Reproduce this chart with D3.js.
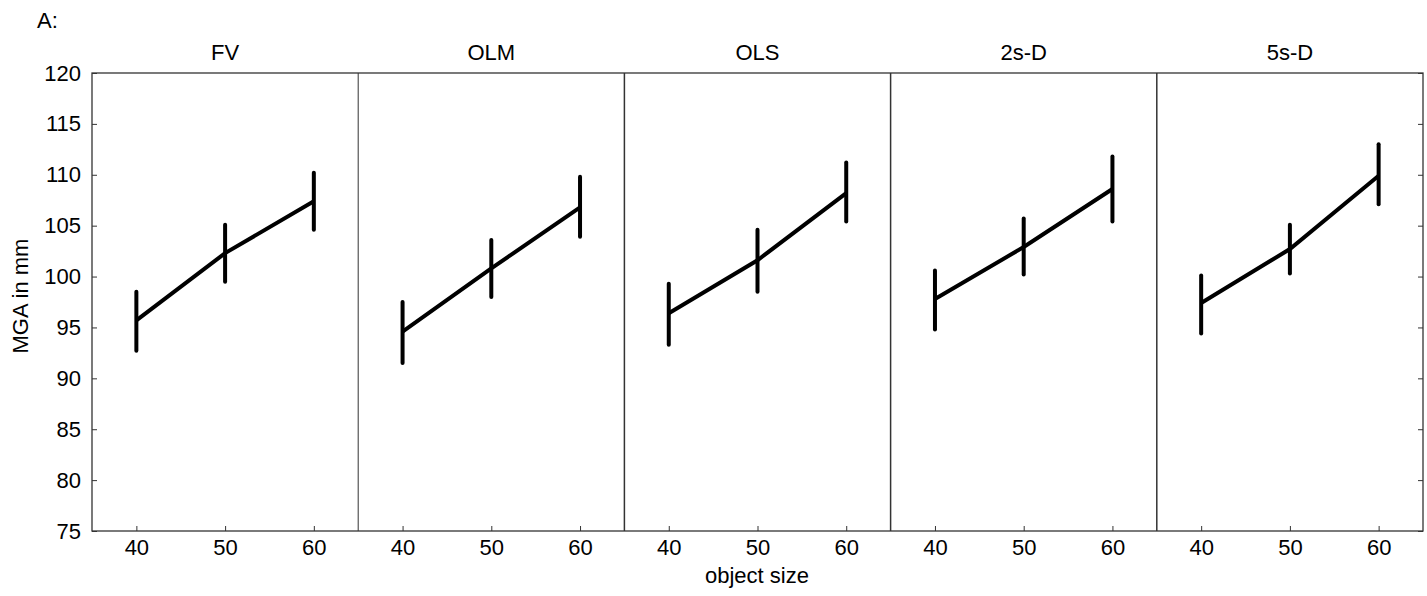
<!DOCTYPE html>
<html><head><meta charset="utf-8">
<script src="https://cdn.jsdelivr.net/npm/d3@7/dist/d3.min.js"></script>
<style>body{margin:0;background:#fff}svg{display:block}text{font-family:"Liberation Sans",Arial,sans-serif;fill:#000}</style>
</head><body><svg id="c" width="1427" height="596"></svg>
<script>
const panels = ["FV","OLM","OLS","2s-D","5s-D"];
const sizes = [40,50,60];
const means = [
  [95.7,102.3,107.4],
  [94.6,100.8,106.8],
  [96.4,101.6,108.2],
  [97.8,102.9,108.6],
  [97.4,102.7,109.9]
];
const lows = [
  [92.7,99.5,104.6],
  [91.5,98.0,103.9],
  [93.3,98.5,105.4],
  [94.8,100.2,105.4],
  [94.4,100.3,107.1]
];
const highs = [
  [98.5,105.1,110.2],
  [97.5,103.6,109.8],
  [99.3,104.6,111.2],
  [100.6,105.7,111.8],
  [100.1,105.1,113.0]
];
const yTicks = [75,80,85,90,95,100,105,110,115,120];

const FS = 22;
const svg = d3.select("#c");
const L=92, R=1423, T=73, B=531;
const y = d3.scaleLinear().domain([75,120]).range([B,T]);
const px = d3.scaleBand().domain(panels).range([L,R]).paddingInner(0).paddingOuter(0);
const axisColor="#333";

svg.append("text").attr("x",37).attr("y",28).attr("font-size",FS).text("A:");

svg.append("rect").attr("x",L).attr("y",T).attr("width",R-L).attr("height",B-T)
  .attr("fill","none").attr("stroke",axisColor).attr("stroke-width",1.3);

const ya = svg.append("g").attr("transform",`translate(${L},0)`)
  .call(d3.axisLeft(y).tickValues(yTicks).tickSizeInner(-5).tickSizeOuter(0).tickPadding(11));
ya.select(".domain").remove();
ya.selectAll("line").attr("stroke",axisColor);
ya.selectAll("text").attr("font-size",FS);
const yr = svg.append("g").attr("transform",`translate(${R},0)`)
  .call(d3.axisRight(y).tickValues(yTicks).tickSizeInner(-5).tickSizeOuter(0).tickFormat(""));
yr.select(".domain").remove();
yr.selectAll("line").attr("stroke",axisColor);

svg.append("text").attr("transform",`translate(28,${(T+B)/2 - 6}) rotate(-90)`)
  .attr("text-anchor","middle").attr("font-size",FS).text("MGA in mm");

panels.forEach((p,i)=>{
  const x0 = px(p);
  const x = d3.scaleLinear().domain([35,65]).range([x0,x0+px.bandwidth()]);
  if(i>0) svg.append("line").attr("x1",x0).attr("x2",x0).attr("y1",T).attr("y2",B)
    .attr("stroke",axisColor).attr("stroke-width",i===1?1:1.5);
  svg.append("text").attr("x",x0+px.bandwidth()/2).attr("y",60).attr("text-anchor","middle")
    .attr("font-size",FS).text(p);
  const xa = svg.append("g").attr("transform",`translate(0,${B})`)
    .call(d3.axisBottom(x).tickValues(sizes).tickSizeInner(-5).tickSizeOuter(0).tickPadding(8));
  xa.select(".domain").remove();
  xa.selectAll("line").attr("stroke",axisColor);
  xa.selectAll("text").attr("font-size",FS);
  const g = svg.append("g");
  g.append("path").datum(sizes.map((s,j)=>[x(s),y(means[i][j])]))
    .attr("d",d3.line()).attr("fill","none").attr("stroke","#000").attr("stroke-width",4);
  g.selectAll("line.eb").data(sizes).join("line").attr("class","eb")
    .attr("x1",s=>x(s)).attr("x2",s=>x(s))
    .attr("y1",(s,j)=>y(lows[i][j])).attr("y2",(s,j)=>y(highs[i][j]))
    .attr("stroke","#000").attr("stroke-width",4).attr("stroke-linecap","round");
});

svg.append("text").attr("x",757).attr("y",583).attr("text-anchor","middle")
  .attr("font-size",FS).text("object size");
</script></body></html>
